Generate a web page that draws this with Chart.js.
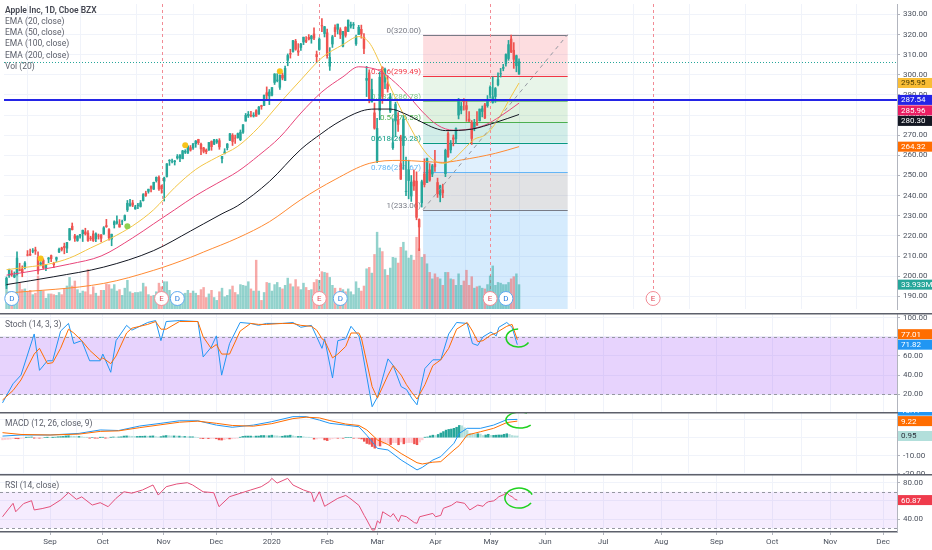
<!DOCTYPE html>
<html>
<head>
<meta charset="utf-8">
<title>AAPL 1D</title>
<script src="https://cdn.jsdelivr.net/npm/chart.js@4.4.1/dist/chart.umd.min.js"></script>
<style>
  html, body { margin: 0; padding: 0; background: #fff; overflow: hidden; }
  #wrap { position: relative; width: 932px; height: 550px; }
  canvas { position: absolute; left: 0; }
</style>
</head>
<body>
<div id="wrap">
  <canvas id="main" width="932" height="313" style="top:0"></canvas>
  <canvas id="stoch" width="932" height="99" style="top:313px"></canvas>
  <canvas id="macd" width="932" height="62" style="top:412px"></canvas>
  <canvas id="rsi" width="932" height="76" style="top:474px"></canvas>
</div>
<script>
// ---- data (daily bars, index 0 = 7 Aug 2019, 195 = 15 May 2020) ----
const tickPos = [18, 38, 61, 81, 102, 123, 142, 164, 185, 205.5, 227.5, 249.5, 270.5, 291.5, 313.5, 333.5];
const tickLabels = ["Sep", "Oct", "Nov", "Dec", "2020", "Feb", "Mar", "Apr", "May", "Jun", "Jul", "Aug", "Sep", "Oct", "Nov", "Dec"];
const priceTicks = [190, 200, 210, 220, 230, 240, 250, 260, 270, 280, 290, 300, 310, 320, 330];
const stochTicks = [20, 40, 60, 80, 100];
const macdTicks = [-20, -10, 0, 10];
const rsiTicks = [40, 60, 80];

const open = [195.4,200.2,201.3,199.6,201.0,203.2,203.5,204.3,210.6,210.9,212.4,213.0,209.4,205.9,207.9,204.1,208.5,210.2,
  206.4,208.4,212.0,214.0,214.8,213.9,218.1,224.8,220.0,217.7,219.9,221.1,222.0,221.4,218.9,221.0,218.6,220.0,220.5,220.9,
  225.1,223.1,218.4,225.6,226.3,225.8,227.0,227.9,232.9,234.9,236.4,233.4,235.1,234.6,237.5,241.2,242.1,244.5,243.2,247.4,249.0,244.8,247.2,
  249.5,257.3,257.1,256.8,258.7,258.7,258.3,261.6,261.1,263.8,263.7,265.8,267.9,265.5,263.7,262.6,262.7,266.9,265.6,266.6,
  267.3,258.3,261.1,263.8,267.5,270.0,268.6,268.8,267.8,271.5,277.0,279.6,279.8,279.5,282.2,280.5,284.7,284.8,291.1,289.5,289.9,
  296.2,297.2,293.8,299.8,297.2,307.2,310.6,311.6,316.7,311.9,313.6,316.3,317.2,318.6,317.9,320.3,310.1,312.6,324.5,320.5,320.9,
  304.3,315.3,323.5,322.6,322.4,314.2,323.6,321.5,324.2,324.7,315.4,320.0,322.6,318.6,297.3,301.0,286.5,281.1,257.3,
  282.3,303.7,296.4,295.5,282.0,263.8,277.1,277.4,255.9,264.9,242.0,247.5,239.8,247.4,247.2,228.1,236.4,250.8,246.5,252.8,250.7,255.6,
  246.5,240.3,242.8,250.9,270.8,262.7,268.7,268.3,280.0,282.4,287.4,284.7,278.0,276.3,273.6,275.9,277.2,281.8,285.1,284.7,290.0,
  286.3,289.2,295.1,300.5,303.2,305.6,308.1,317.8,312.2,304.5,300.4];
const high = [199.6,203.5,202.8,202.1,212.1,206.4,205.1,207.2,212.7,213.4,213.7,214.4,212.1,207.2,208.6,205.7,209.3,210.5,
  206.9,209.5,213.9,214.4,216.4,216.8,223.7,226.4,220.8,220.1,220.8,222.9,223.8,222.6,219.8,222.5,221.5,220.9,220.7,224.6,
  228.2,223.6,220.9,227.5,229.9,228.1,227.8,230.4,237.6,238.1,237.7,235.2,236.2,237.6,241.0,242.2,243.2,244.8,246.7,249.3,249.8,245.3,249.2,
  255.9,257.9,258.2,257.5,260.4,260.4,262.5,262.8,264.8,264.9,265.8,267.4,268.0,266.1,264.0,263.2,266.4,267.2,268.0,268.0,
  268.3,259.5,263.3,265.9,271.0,270.8,270.1,271.1,272.6,275.3,280.8,281.8,281.9,281.2,282.7,284.3,284.9,290.0,294.0,292.7,293.7,
  300.6,300.6,300.0,300.9,304.4,310.4,312.7,317.1,317.6,315.5,315.7,318.7,319.0,320.0,319.6,323.3,311.8,318.4,327.9,324.1,322.7,
  313.5,319.6,324.8,325.2,323.4,321.6,323.9,327.2,326.2,326.0,319.8,324.6,324.7,320.5,304.2,302.5,297.9,286.0,278.4,
  301.4,304.0,303.4,299.6,290.8,278.1,286.4,281.2,270.0,279.9,259.1,257.6,250.0,252.8,251.8,228.5,247.7,258.3,258.7,255.9,255.5,262.5,
  248.7,245.2,245.7,263.1,271.7,267.4,270.1,273.7,288.3,286.3,288.2,287.0,281.7,277.3,277.9,281.8,283.0,284.5,285.8,289.7,294.5,
  299.0,293.7,301.0,303.2,305.2,310.4,317.1,319.7,316.0,309.8,307.9];
const low = [193.8,199.4,199.9,199.2,200.5,202.6,199.7,203.6,210.0,210.3,211.6,210.8,201.0,205.1,203.5,202.7,206.7,207.2,
  204.2,207.3,211.7,212.5,211.1,211.7,217.7,222.9,217.3,217.3,218.9,217.2,220.4,217.2,217.7,217.2,217.1,218.4,217.0,220.8,
  224.2,217.9,215.1,223.9,225.8,224.3,225.6,227.5,232.1,234.7,234.5,233.2,233.5,234.3,237.3,239.6,241.2,241.8,243.0,246.7,242.6,241.2,237.3,
  249.2,255.0,256.3,255.2,258.1,256.9,258.3,260.9,260.9,262.1,263.0,264.0,265.4,260.4,261.2,260.8,262.5,262.5,265.3,265.9,
  263.0,256.3,260.7,262.7,267.3,264.9,265.9,268.5,267.3,270.9,277.0,278.8,279.1,279.0,279.5,280.4,282.9,284.7,288.1,285.2,289.5,
  295.2,296.5,292.8,297.5,297.2,304.5,308.3,311.2,312.2,309.6,312.1,315.0,316.0,317.3,315.7,317.5,306.2,312.2,321.4,318.8,308.3,
  302.2,313.6,319.0,320.3,318.0,313.9,318.7,321.5,323.2,322.9,314.6,320.0,318.2,310.5,289.2,286.1,286.5,273.0,256.4,
  277.7,285.8,293.1,291.4,281.2,263.0,269.4,271.9,248.0,253.0,240.0,238.4,237.1,242.6,228.0,212.6,234.3,244.3,246.4,247.1,249.4,252.0,
  239.1,236.9,239.0,249.4,259.0,261.2,264.7,265.8,278.1,280.6,282.4,276.9,276.9,265.4,272.2,274.9,277.0,279.1,278.2,283.9,288.4,
  285.9,286.3,294.5,298.9,302.0,304.3,307.2,311.0,303.2,301.5,300.2];
const close = [199.0,203.4,201.0,200.5,209.0,202.8,201.7,206.5,210.4,210.4,212.6,212.5,202.6,206.5,204.2,205.5,209.0,208.7,
  205.7,209.2,213.3,213.3,214.2,216.7,223.6,223.1,218.8,219.9,220.7,222.8,221.0,217.7,218.7,217.7,221.0,219.9,218.8,224.0,
  224.6,219.0,220.8,227.0,227.1,224.4,227.0,230.1,236.2,235.9,235.3,234.4,235.3,236.4,240.5,240.0,243.2,243.6,246.6,249.1,243.3,243.3,248.8,
  255.8,257.5,257.1,257.2,259.4,260.1,262.2,262.0,264.5,262.6,265.8,267.1,266.3,263.2,262.0,261.8,266.4,264.3,267.8,267.3,
  264.2,259.5,261.7,265.6,270.7,266.9,268.5,270.8,271.5,275.2,279.9,280.4,279.7,280.0,279.4,284.0,284.3,289.9,289.8,291.5,293.7,
  300.4,297.4,299.8,298.4,303.2,309.6,310.3,317.0,312.7,311.3,315.2,318.7,316.6,317.7,319.2,318.3,309.0,317.7,324.3,323.9,309.5,
  308.7,318.9,321.5,325.2,320.0,321.6,319.6,327.2,324.9,325.0,319.0,323.6,320.3,313.1,298.2,288.1,292.7,273.5,273.4,
  298.8,289.3,302.7,292.9,289.0,266.2,285.3,275.4,248.2,278.0,242.2,252.9,246.7,244.8,229.2,224.4,246.9,245.5,258.4,247.7,254.8,254.3,
  240.9,244.9,241.4,262.5,259.4,266.1,268.0,273.3,287.1,284.4,286.7,282.8,276.9,268.4,276.1,275.0,283.0,283.2,278.6,287.7,293.8,
  289.1,293.2,297.6,300.6,303.7,310.1,315.0,311.4,307.7,309.5,306.5];
const volume = [33,24,24,23,60,36,27,28,24,26,20,22,46,26,25,15,21,21,
  20,19,23,20,28,32,44,32,39,27,22,25,24,55,20,31,22,18,26,26,
  35,34,28,34,25,27,19,29,40,24,22,23,23,24,36,31,20,18,19,24,36,31,38,
  38,26,20,19,23,18,21,22,26,22,25,22,19,27,30,16,21,26,16,12,
  24,29,17,19,27,32,23,20,34,33,32,38,28,25,68,25,12,23,37,36,25,
  34,37,30,28,33,43,35,31,41,31,27,36,30,26,27,37,41,40,52,51,50,
  44,33,29,20,29,27,24,28,24,20,38,29,25,32,56,58,50,76,107,
  85,80,55,47,57,72,71,64,86,93,81,71,75,68,100,84,72,76,63,51,42,49,
  44,42,33,51,51,42,41,33,49,33,39,54,33,45,29,31,32,29,28,34,46,
  60,33,37,36,34,34,37,42,45,49,33.933];

// EMA readings: [bar index, value]
const ema20 = [[0,203.2],[8,204.5],[16,206],[24,209],[32,214],[40,219],[48,225],[56,233],[64,244],[72,253],[80,259],[88,264.5],
  [96,274],[104,286],[112,297.5],[120,308.5],[128,315],[134,319],[138,316],[142,306],[146,294],[150,283],[154,273],[158,264],
  [162,258],[166,256],[170,258],[174,263],[178,268],[182,270],[185,274],[188,280],[191,287],[195,295.95]];
const ema50 = [[0,200.5],[12,203],[24,206],[36,210],[48,219],[56,226],[64,233],[72,240],[80,246],[88,252],[96,260],[104,269],
  [112,281],[120,291.5],[128,299],[134,304],[138,303.5],[142,302],[148,296],[154,288],[158,282],[164,275],[170,272.5],
  [176,273],[182,275],[188,279.5],[195,285.96]];
const ema100 = [[0,195.8],[18,199.7],[37,204.5],[56,212.7],[70,222.4],[75,226],[82,231],[88,235],[100,247],[112,263],[120,271],
  [125,275.5],[135,282],[140,283],[146,283],[151,281],[158,276.5],[163,273.5],[167,272.3],[177,273],[186,276.3],[195,280.3]];
const ema200 = [[0,191.5],[37,196.4],[56,202.9],[70,209.3],[75,212],[88,219],[100,227],[112,238],[125,248],[138,256],[150,257.5],
  [158,257],[166,256.5],[173,257.7],[186,261],[195,264.32]];

const markerIdx = [13, 46, 68, 104];
const markerPrice = [208.8, 224.8, 265, 301.8];
const markerKind = ["y", "g", "y", "y"];

const hLinePrice = 287.54;
const earnings = [59, 119, 184, 246];
const dividends = [2, 65, 127, 190];

const fibLevels = [0, 0.236, 0.382, 0.5, 0.618, 0.786, 1, 1.618];
const fibPrices = [320.00, 299.49, 286.78, 276.53, 266.28, 251.67, 233.06, 179.33];
const fibStart = 158.5, fibEnd = 213.5;

const stochK = [[0,11],[4,31],[7,40],[12,83],[14,45],[17,55],[19,55],[22,86],[25,94],[27,73],[30,76],[33,55],[37,55],[38,62],
  [41,43],[43,76],[47,92],[49,87],[55,95],[58,97],[60,76],[62,96],[67,97],[74,96],[76,59],[79,69],[81,81],[83,40],[86,73],
  [90,95],[94,94],[97,92],[100,94],[106,94],[110,95],[113,90],[117,92],[119,80],[121,68],[122,78],[125,37],[127,76],[130,78],
  [132,91],[135,81],[136,69],[140,7],[142,17],[146,57],[148,50],[151,28],[153,25],[155,16],[157,9],[160,47],[163,56],[166,56],
  [169,83],[172,95],[176,94],[178,73],[180,71],[182,80],[185,85],[187,81],[188,90],[191,95],[193,90],[195,71.82]];
const stochD = [[0,14],[4,24],[7,35],[12,62],[14,68],[17,52],[19,53],[22,68],[25,88],[27,84],[30,76],[33,66],[37,56],[38,58],
  [41,52],[43,60],[47,84],[49,89],[55,93],[58,96],[60,88],[62,88],[67,96],[74,96],[76,80],[79,68],[81,72],[83,62],[86,62],
  [90,86],[94,94],[97,93],[100,93],[106,94],[110,94],[113,92],[117,91],[119,87],[121,78],[122,76],[125,58],[127,62],[130,70],
  [132,84],[135,84],[136,78],[140,28],[142,16],[146,40],[148,50],[151,40],[153,30],[155,22],[157,15],[160,30],[163,50],[166,56],
  [169,68],[172,88],[176,95],[178,86],[180,75],[182,76],[185,82],[187,84],[188,86],[191,91],[193,93],[195,77.01]];

const macdLine = [[0,0.9],[7,1.5],[18,1.5],[29,2.4],[37,4.3],[44,4.0],[52,6.5],[60,8.0],[67,9.4],[74,9.4],[81,7.0],[87,5.8],
  [95,7.0],[102,8.9],[110,11.7],[115,11.7],[120,9.8],[124,8.0],[130,7.0],[135,6.1],[138,1.3],[142,-5.9],[146,-6.8],[151,-12.4],
  [157,-17.9],[159,-16.5],[163,-12.4],[166,-10.5],[171,-3.1],[173,2.4],[176,5.2],[181,5.2],[186,7.0],[191,10.0],[195,10.17]];
const macdSignal = [[0,2.8],[7,1.8],[18,1.5],[29,2.0],[37,3.5],[44,3.8],[52,5.6],[60,7.2],[67,8.6],[74,9.2],[81,8.0],[87,6.8],
  [95,6.4],[102,7.8],[110,10.6],[115,11.4],[120,11.0],[124,9.5],[130,7.6],[135,6.8],[138,4.3],[142,-1.2],[146,-3.8],[151,-8.8],
  [157,-13.9],[159,-14.6],[163,-13.6],[166,-13.3],[171,-6.8],[173,-4.4],[176,1.5],[181,3.3],[186,5.2],[191,8.4],[195,9.22]];
const macdHist = [-1.2,-1.0,-0.9,-0.8,-0.4,-0.5,-0.6,-0.4,-0.1,0.1,0.3,0.4,-0.1,-0.1,-0.2,-0.2,0.0,0.1,
  0.0,0.1,0.3,0.5,0.6,0.7,1.0,1.1,0.9,0.8,0.7,0.7,0.5,0.2,0.1,-0.1,0.0,-0.1,-0.2,0.1,
  0.2,-0.1,-0.1,0.2,0.4,0.3,0.4,0.5,0.9,1.0,0.9,0.8,0.7,0.7,0.8,0.8,0.9,0.8,0.9,1.0,0.6,0.4,0.6,
  1.0,1.2,1.1,1.0,1.0,0.9,0.9,0.7,0.7,0.5,0.5,0.5,0.3,0.0,-0.3,-0.5,-0.4,-0.5,-0.4,-0.4,
  -0.6,-1.2,-1.3,-1.1,-0.6,-0.7,-0.6,-0.4,-0.2,0.2,0.7,0.9,0.9,0.9,0.7,0.9,0.9,1.2,1.2,1.1,1.1,
  1.4,1.1,1.0,0.8,0.8,1.1,1.1,1.4,1.0,0.7,0.7,0.7,0.5,0.3,0.2,0.0,-0.8,-0.7,-0.2,-0.1,-1.2,
  -1.6,-1.0,-0.6,-0.2,-0.3,-0.2,-0.3,0.0,0.0,0.0,-0.3,-0.2,-0.3,-0.7,-2.0,-3.2,-3.6,-4.9,-5.8,
  -4.5,-4.6,-3.4,-3.2,-3.0,-3.8,-2.8,-2.8,-3.9,-2.4,-3.4,-2.8,-2.7,-2.7,-3.4,-3.9,-2.4,-1.2,0.2,0.4,1.0,1.4,
  1.2,1.8,2.6,3.4,4.2,4.6,4.8,5.2,5.8,6.8,6.6,5.5,4.0,2.4,2.3,1.9,2.2,2.0,1.2,1.5,1.9,
  1.3,1.3,1.4,1.5,1.5,1.9,2.2,1.8,1.2,1.0,0.95];

const rsi = [[0,42.5],[2,50],[4,57.3],[5,48],[8,57],[11,60.2],[12,50],[15,51.5],[18,53.6],[22,61],[25,69],[28,61.7],[30,64.4],
  [34,55.4],[37,58],[40,53.6],[43,62.8],[46,70],[49,68.5],[53,72],[57,77.5],[59,66.4],[62,75.6],[66,78.6],[70,80],[72,77.5],
  [76,70],[80,69],[82,53.6],[86,64.6],[90,68.3],[94,72],[98,75.6],[101,81.1],[102,84.8],[104,79.6],[108,84.8],[110,77.5],
  [114,72],[117,69],[118,59],[120,70],[122,54],[127,62.8],[130,66],[132,62],[135,55],[137,44],[138,38.9],[140,27.9],[141,28],
  [142,38],[143,35.3],[144,48],[147,42.5],[148,46],[150,37],[151,44],[153,42.5],[156,36],[157,35.3],[158,42.5],[163,46.2],
  [164,42.5],[166,44],[167,51.8],[170,55],[172,59],[175,57.3],[177,50],[180,55.4],[182,54],[183,57.3],[184,59],[186,60],
  [187,62],[188,64.6],[190,67],[191,69],[192,66],[193,64.6],[194,62],[195,60.87]];

// ---- style ----
const FONT = 'Roboto, "Liberation Sans", sans-serif';
const UP = "#26a69a", DOWN = "#ef5350";
const GRID = "#f0f3fa", AXIS = "#b2b5be", TEXT = "#4c525e", SEP = "#5d606b";
const X_MIN = -0.95, X_MAX = 338.8;
const fibColors = ["#787b86", "#f23645", "#81c784", "#4caf50", "#089981", "#64b5f6", "#787b86", "#2196f3"];
const fibFills = ["rgba(242,54,69,0.17)", "rgba(129,199,132,0.18)", "rgba(76,175,80,0.18)", "rgba(8,153,129,0.18)",
  "rgba(100,181,246,0.2)", "rgba(120,123,134,0.22)", "rgba(33,150,243,0.19)"];

Chart.defaults.font.family = FONT;

const bars = close.map((c, i) => i);
const isUp = i => close[i] >= open[i];
const candleColors = bars.map(i => (isUp(i) ? UP : DOWN));
const pts = arr => arr.map(([x, y]) => ({ x, y }));
const last = arr => arr[arr.length - 1][1];

const px = (c, v) => c.scales.x.getPixelForValue(v);
const py = (c, v, id = "y") => c.scales[id].getPixelForValue(v);

function xScale(showLabels) {
  return {
    type: "linear", min: X_MIN, max: X_MAX, offset: false,
    afterBuildTicks: s => { s.ticks = tickPos.map(v => ({ value: v })); },
    grid: { color: GRID, drawTicks: showLabels, tickLength: 3, tickColor: AXIS },
    border: { display: showLabels, color: SEP, width: 1.5 },
    ticks: {
      display: showLabels, autoSkip: false, maxRotation: 0, padding: 2, color: TEXT,
      font: { size: 8 }, callback: (v, i) => tickLabels[i]
    },
    afterFit: s => { s.height = showLabels ? 18 : 0; s.paddingLeft = 0; s.paddingRight = 0; }
  };
}

function yScale(min, max, ticksArr) {
  return {
    position: "right", min, max,
    afterBuildTicks: s => { s.ticks = ticksArr.map(v => ({ value: v })); },
    grid: { color: GRID, tickLength: 3, tickColor: AXIS },
    border: { color: AXIS },
    ticks: { color: TEXT, font: { size: 8 }, padding: 3, callback: v => v.toFixed(2) },
    afterFit: s => { s.width = 35; s.paddingTop = 0; s.paddingBottom = 0; }
  };
}

function drawTags(c, tags) {
  const ctx = c.ctx, H = 10, placed = [];
  ctx.save();
  ctx.font = `8px ${FONT}`;
  ctx.textAlign = "left";
  ctx.textBaseline = "middle";
  tags.forEach(t => {
    let y = py(c, t.v, t.axis || "y");
    placed.forEach(p => {
      if (Math.abs(y - p) < H + 0.5) y = y < p ? p - H - 0.5 : p + H + 0.5;
    });
    placed.push(y);
    ctx.fillStyle = t.bg;
    ctx.fillRect(c.chartArea.right + 1, y - H / 2, 34, H);
    ctx.fillStyle = t.fg || "#fff";
    ctx.fillText(t.text, c.chartArea.right + 4, y + 0.5);
  });
  ctx.restore();
}

function badge(ctx, x, y, letter, stroke, color) {
  ctx.beginPath();
  ctx.arc(x, y, 7, 0, Math.PI * 2);
  ctx.fillStyle = "#fff";
  ctx.fill();
  ctx.lineWidth = 1;
  ctx.strokeStyle = stroke;
  ctx.stroke();
  ctx.fillStyle = color;
  ctx.font = `8px ${FONT}`;
  ctx.textAlign = "center";
  ctx.textBaseline = "middle";
  ctx.fillText(letter, x, y + 0.5);
}

const mainOverlay = {
  id: "mainOverlay",
  beforeDatasetsDraw(c) {
    const { ctx, chartArea: a } = c;
    ctx.save();
    ctx.beginPath();
    ctx.rect(a.left, a.top, a.right - a.left, a.bottom - a.top);
    ctx.clip();
    const x1 = px(c, fibStart), x2 = px(c, fibEnd);
    for (let k = 0; k < fibPrices.length - 1; k++) {
      const yA = py(c, fibPrices[k]), yB = py(c, fibPrices[k + 1]);
      ctx.fillStyle = fibFills[k];
      ctx.fillRect(x1, yA, x2 - x1, yB - yA);
    }
    ctx.lineWidth = 1;
    ctx.font = `8px ${FONT}`;
    ctx.textAlign = "right";
    ctx.textBaseline = "bottom";
    for (let k = 0; k < fibLevels.length - 1; k++) {
      const y = Math.round(py(c, fibPrices[k])) + 0.5;
      ctx.strokeStyle = fibColors[k];
      ctx.beginPath();
      ctx.moveTo(x1, y);
      ctx.lineTo(x2, y);
      ctx.stroke();
      ctx.fillStyle = fibColors[k];
      ctx.fillText(`${fibLevels[k]}(${fibPrices[k].toFixed(2)})`, x1 - 2, y - 1);
    }
    // earnings dates
    ctx.setLineDash([3, 3]);
    ctx.strokeStyle = "#f28b95";
    earnings.forEach(i => {
      const x = Math.round(px(c, i)) + 0.5;
      ctx.beginPath();
      ctx.moveTo(x, a.top);
      ctx.lineTo(x, a.bottom - 18);
      ctx.stroke();
    });
    ctx.restore();
  },
  afterDatasetsDraw(c) {
    const { ctx, chartArea: a } = c;
    ctx.save();
    ctx.beginPath();
    ctx.rect(a.left, a.top, a.right - a.left, a.bottom - a.top);
    ctx.clip();
    // last price line
    const yl = Math.round(py(c, close[close.length - 1])) + 0.5;
    ctx.strokeStyle = UP;
    ctx.lineWidth = 1;
    ctx.setLineDash([1, 2]);
    ctx.beginPath();
    ctx.moveTo(a.left, yl);
    ctx.lineTo(a.right, yl);
    ctx.stroke();
    // fib trend line
    ctx.strokeStyle = "#9598a1";
    ctx.setLineDash([4, 4]);
    ctx.beginPath();
    ctx.moveTo(px(c, fibStart), py(c, fibPrices[6]));
    ctx.lineTo(px(c, fibEnd), py(c, fibPrices[0]));
    ctx.stroke();
    // horizontal level
    ctx.setLineDash([]);
    ctx.strokeStyle = "#2424e6";
    ctx.lineWidth = 2;
    const yh = Math.round(py(c, hLinePrice));
    ctx.beginPath();
    ctx.moveTo(a.left, yh);
    ctx.lineTo(a.right, yh);
    ctx.stroke();
    // event badges
    const yb = a.bottom - 10.5;
    earnings.forEach(i => badge(ctx, px(c, i), yb, "E", "#f28b95", "#e04a58"));
    dividends.forEach(i => badge(ctx, px(c, i), yb, "D", "#5ea8f0", "#2b7de0"));
    ctx.restore();
  },
  afterDraw(c) {
    const ctx = c.ctx;
    const lines = ["Apple Inc, 1D, Cboe BZX", "EMA (20, close)", "EMA (50, close)", "EMA (100, close)", "EMA (200, close)", "Vol (20)"];
    ctx.save();
    ctx.textAlign = "left";
    ctx.textBaseline = "middle";
    lines.forEach((t, k) => {
      ctx.font = k === 0 ? `600 8.5px ${FONT}` : `8.5px ${FONT}`;
      ctx.fillStyle = k === 0 ? "#434651" : "#5d606b";
      ctx.fillText(t, 5, 11 + k * 11.1);
    });
    ctx.restore();
    drawTags(c, [
      { v: hLinePrice, bg: "#2424e6", text: hLinePrice.toFixed(2) },
      { v: last(ema20), bg: "#f9bd35", fg: "#4a3a00", text: last(ema20).toFixed(2) },
      { v: last(ema50), bg: "#e91e63", text: last(ema50).toFixed(2) },
      { v: last(ema100), bg: "#131722", text: last(ema100).toFixed(2) },
      { v: last(ema200), bg: "#ff6d00", text: last(ema200).toFixed(2) },
      { v: volume[volume.length - 1], axis: "yv", bg: UP, text: volume[volume.length - 1].toFixed(3) + "M" }
    ]);
  }
};

function panelPlugin(opt) {
  return {
    id: "panel" + opt.key,
    beforeDatasetsDraw(c) {
      if (!opt.band) return;
      const { ctx, chartArea: a } = c;
      const yHi = py(c, opt.band[1]), yLo = py(c, opt.band[0]);
      ctx.save();
      ctx.fillStyle = opt.fill;
      ctx.fillRect(a.left, yHi, a.right - a.left, yLo - yHi);
      ctx.strokeStyle = "#9598a1";
      ctx.lineWidth = 1;
      ctx.setLineDash([3, 3]);
      [yHi, yLo].forEach(y => {
        const yy = Math.round(y) + 0.5;
        ctx.beginPath();
        ctx.moveTo(a.left, yy);
        ctx.lineTo(a.right, yy);
        ctx.stroke();
      });
      ctx.restore();
    },
    afterDatasetsDraw(c) {
      const n = opt.note;
      const ctx = c.ctx;
      ctx.save();
      ctx.strokeStyle = "#1fd11f";
      ctx.lineWidth = 1.5;
      ctx.beginPath();
      ctx.ellipse(px(c, n.at[0]), py(c, n.at[1]), n.rx, n.ry, 0, n.a0, n.a1, true);
      ctx.stroke();
      ctx.restore();
    },
    afterDraw(c) {
      const ctx = c.ctx;
      ctx.save();
      ctx.strokeStyle = SEP;
      ctx.lineWidth = 1.5;
      ctx.beginPath();
      ctx.moveTo(0, 0.75);
      ctx.lineTo(c.width, 0.75);
      ctx.stroke();
      ctx.font = `8.5px ${FONT}`;
      ctx.fillStyle = "#5d606b";
      ctx.textAlign = "left";
      ctx.textBaseline = "middle";
      ctx.fillText(opt.title, 5, 11.5);
      ctx.restore();
      drawTags(c, opt.tags);
    }
  };
}

const lineStyle = { pointRadius: 0, borderWidth: 1, fill: false };
const baseOptions = {
  responsive: false, animation: false, events: [],
  layout: { padding: 0 },
  plugins: { legend: { display: false }, tooltip: { enabled: false } }
};

// ---- main price pane ----
new Chart(document.getElementById("main"), {
  type: "bar",
  data: {
    datasets: [
      { label: "Vol", data: volume.map((v, i) => ({ x: i, y: v })), yAxisID: "yv",
        backgroundColor: bars.map(i => (isUp(i) ? "rgba(38,166,154,0.5)" : "rgba(239,83,80,0.5)")),
        barThickness: 1.8, grouped: false, order: 10 },
      { label: "wick", data: bars.map(i => ({ x: i, y: [low[i], high[i]] })), backgroundColor: candleColors,
        barThickness: 1, grouped: false, order: 4 },
      { label: "body", data: bars.map(i => ({ x: i, y: [open[i], close[i]] })), backgroundColor: candleColors,
        barThickness: 1.8, grouped: false, order: 3 },
      { type: "line", label: "EMA200", data: pts(ema200), borderColor: "#ff8a33", cubicInterpolationMode: "monotone", ...lineStyle, order: 2 },
      { type: "line", label: "EMA100", data: pts(ema100), borderColor: "#131722", cubicInterpolationMode: "monotone", ...lineStyle, order: 2 },
      { type: "line", label: "EMA50", data: pts(ema50), borderColor: "#e8457a", cubicInterpolationMode: "monotone", ...lineStyle, order: 2 },
      { type: "line", label: "EMA20", data: pts(ema20), borderColor: "#f3c545", cubicInterpolationMode: "monotone", ...lineStyle, order: 2 },
      { type: "line", label: "marks", data: markerIdx.map((x, k) => ({ x, y: markerPrice[k] })), showLine: false,
        pointRadius: 3, pointBorderWidth: 0,
        pointBackgroundColor: markerKind.map(k => (k === "g" ? "#8fd14f" : "#f7c31a")), order: 1 }
    ]
  },
  options: {
    ...baseOptions,
    scales: {
      x: xScale(false),
      y: yScale(183.68, 335.18, priceTicks),
      yv: { display: false, min: 0, max: 425 }
    }
  },
  plugins: [mainOverlay]
});

// ---- stochastic ----
new Chart(document.getElementById("stoch"), {
  type: "line",
  data: {
    datasets: [
      { label: "%D", data: pts(stochD), borderColor: "#ff6d00", ...lineStyle },
      { label: "%K", data: pts(stochK), borderColor: "#2196f3", ...lineStyle }
    ]
  },
  options: { ...baseOptions, scales: { x: xScale(false), y: yScale(1.5, 104.9, stochTicks) } },
  plugins: [panelPlugin({
    key: "stoch", title: "Stoch (14, 3, 3)", band: [20, 80], fill: "rgba(155,70,245,0.24)",
    note: { at: [195.3, 78.8], rx: 12, ry: 9, a0: -Math.PI / 2, a1: Math.PI / 6 },
    tags: [
      { v: last(stochK), bg: "#2196f3", text: last(stochK).toFixed(2) },
      { v: last(stochD), bg: "#ff6d00", text: last(stochD).toFixed(2) }
    ]
  })]
});

// ---- MACD ----
new Chart(document.getElementById("macd"), {
  type: "bar",
  data: {
    datasets: [
      { type: "line", label: "Signal", data: pts(macdSignal), borderColor: "#ff6d00", ...lineStyle, order: 1 },
      { type: "line", label: "MACD", data: pts(macdLine), borderColor: "#2196f3", ...lineStyle, order: 1 },
      { label: "Hist", data: macdHist.map((v, i) => ({ x: i, y: v })), barThickness: 1.8, grouped: false, order: 5,
        backgroundColor: macdHist.map((v, i) => {
          const prev = i > 0 ? macdHist[i - 1] : v;
          if (v >= 0) return v >= prev ? "#26a69a" : "#b2dfdb";
          return v < prev ? "#ef5350" : "#ffcdd2";
        }) }
    ]
  },
  options: { ...baseOptions, scales: { x: xScale(false), y: yScale(-20.17, 14.28, macdTicks) } },
  plugins: [panelPlugin({
    key: "macd", title: "MACD (12, 26, close, 9)",
    note: { at: [196, 9.8], rx: 14, ry: 8, a0: -Math.PI / 3, a1: Math.PI * 2 / 9 },
    tags: [
      { v: last(macdSignal), bg: "#ff6d00", text: last(macdSignal).toFixed(2) },
      { v: macdHist[macdHist.length - 1], bg: "#b2dfdb", fg: "#2a2e39", text: macdHist[macdHist.length - 1].toFixed(2) },
      { v: last(macdLine), bg: "#2196f3", text: last(macdLine).toFixed(2) }
    ]
  })]
});

// ---- RSI ----
new Chart(document.getElementById("rsi"), {
  type: "line",
  data: { datasets: [{ label: "RSI", data: pts(rsi), borderColor: "#e4507a", ...lineStyle }] },
  options: { ...baseOptions, scales: { x: xScale(true), y: yScale(25.7, 89.6, rsiTicks) } },
  plugins: [panelPlugin({
    key: "rsi", title: "RSI (14, close)", band: [30, 70], fill: "rgba(155,70,245,0.1)",
    note: { at: [195.6, 63.1], rx: 14, ry: 10, a0: -Math.PI / 9, a1: Math.PI / 6 },
    tags: [{ v: last(rsi), bg: "#ef3b4c", text: last(rsi).toFixed(2) }]
  })]
});
</script>
</body>
</html>
